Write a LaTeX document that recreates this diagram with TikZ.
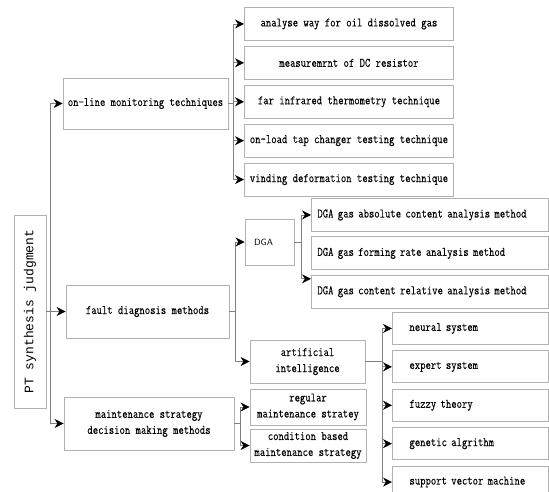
\documentclass[tikz,border=0pt]{standalone}
\usepackage{fontspec}
\usepackage{tikz}
\usetikzlibrary{arrows.meta}
\usetikzlibrary{positioning}
\newfontfamily\rootfont{Liberation Mono}
\newfontfamily\boxfont[FakeStretch=0.8,FakeBold=0.15]{Latin Modern Mono}
\tikzset{
  box/.style={
    rectangle,
    draw=gray!60, line width=0.9pt,
    fill=white,
    inner sep=2pt,
    align=center,
    font=\boxfont\fontsize{13}{16}\selectfont,
  },
  onsub/.style={box, minimum width=209pt, minimum height=33pt},
  dgasub/.style={box, align=left, text width=225pt, inner xsep=6pt, minimum height=33pt},
  aisub/.style={box, align=left, text width=122pt, inner xsep=17pt, minimum height=32pt},
  link/.style={draw=gray, line width=0.8pt},
}

\begin{document}
\begin{tikzpicture}[x=1pt,y=-1pt,>={Stealth[length=9pt,width=9pt,black]}]
  \useasboundingbox (0,0) rectangle (549,491);
  % root
  \node[box, minimum width=32pt, minimum height=193pt] (root) at (30,311.5)
    {\rotatebox{90}{\rootfont\fontsize{13}{16}\selectfont PT synthesis judgment}};
  % first level
  \node[box, minimum width=165pt, minimum height=51pt] (online) at (145.5,103.5)
    {on-line monitoring techniques};
  \node[box, minimum width=163pt, minimum height=53pt] (fault) at (147.5,311.5)
    {fault diagnosis methods};
  \node[box, minimum width=170pt, minimum height=53pt] (maint) at (149,423.5)
    {maintenance strategy\\decision making methods};
  % on-line monitoring
  \node[onsub, anchor=north west] (on1) at (244,7) {analyse way for oil dissolved gas};
  \node[onsub, below=5pt of on1] (on2) {measuremrnt of DC resistor};
  \node[onsub, below=5pt of on2] (on3) {far infrared thermometry technique};
  \node[onsub, below=5pt of on3] (on4) {on-load tap changer testing technique};
  \node[onsub, below=5pt of on4] (on5) {vinding deformation testing technique};
  % fault diagnosis
  \node[box, align=left, text width=31pt, inner xsep=9pt, minimum height=46pt,
    font=\fontsize{9}{10}\selectfont\sffamily] (dga) at (269.5,242) {DGA};
  \node[box, minimum width=115pt, minimum height=43pt] (ai) at (307.5,361.5)
    {artificial\\intelligence};
  \node[dgasub, anchor=north west] (dga1) at (311,198) {DGA gas absolute content analysis method};
  \node[dgasub, below=4.5pt of dga1] (dga2) {DGA gas forming rate analysis method};
  \node[dgasub, below=4.5pt of dga2] (dga3) {DGA gas content relative analysis method};
  \node[aisub, anchor=north west] (ai1) at (392,312) {neural system};
  \node[aisub, below=5.5pt of ai1] (ai2) {expert system};
  \node[aisub, below=5.5pt of ai2] (ai3) {fuzzy theory};
  \node[aisub, below=5.5pt of ai3] (ai4) {genetic algrithm};
  \node[aisub, below=5.5pt of ai4] (ai5) {support vector machine};
  % maintenance strategy
  \node[box, minimum width=116pt, minimum height=36pt] (regular) at (308,407)
    {regular\\maintenance stratey};
  \node[box, minimum width=116pt, minimum height=33pt] (condition) at (308,445.5)
    {condition based\\maintenance strategy};

  % connectors
  \draw[link,->] (root.east) -- (root.east -| fault.west);
  \draw[link,->] ([xshift=4pt]root.east) |- (online.west);
  \draw[link,->] ([xshift=4pt]root.east) |- (maint.west);

  \draw[link] (online.east) -- ++(5,0) coordinate (onfork);
  \foreach \i in {1,...,5}
    \draw[link,->] (onfork) |- (on\i.west);

  \draw[link] (fault.east) -- ++(6,0) coordinate (ffork);
  \draw[link,->] (ffork) |- (dga.west);
  \draw[link,->] (ffork) |- (ai.west);

  \draw[link] (dga.east) -- ++(7,0) coordinate (dfork);
  \draw[link,->] (dfork) |- (dga1.west);
  \draw[link,->] (dfork) |- ([yshift=-4pt]dga3.north west);

  \draw[link] (ai.east) -- ++(17,0) coordinate (afork);
  \foreach \i in {1,...,5}
    \draw[link,->] (afork) |- (ai\i.west);

  \draw[link] (maint.east) -- ++(6,0) coordinate (mfork);
  \draw[link,->] (mfork) |- (regular.west);
  \draw[link,->] (mfork) |- (condition.west);
\end{tikzpicture}
\end{document}
